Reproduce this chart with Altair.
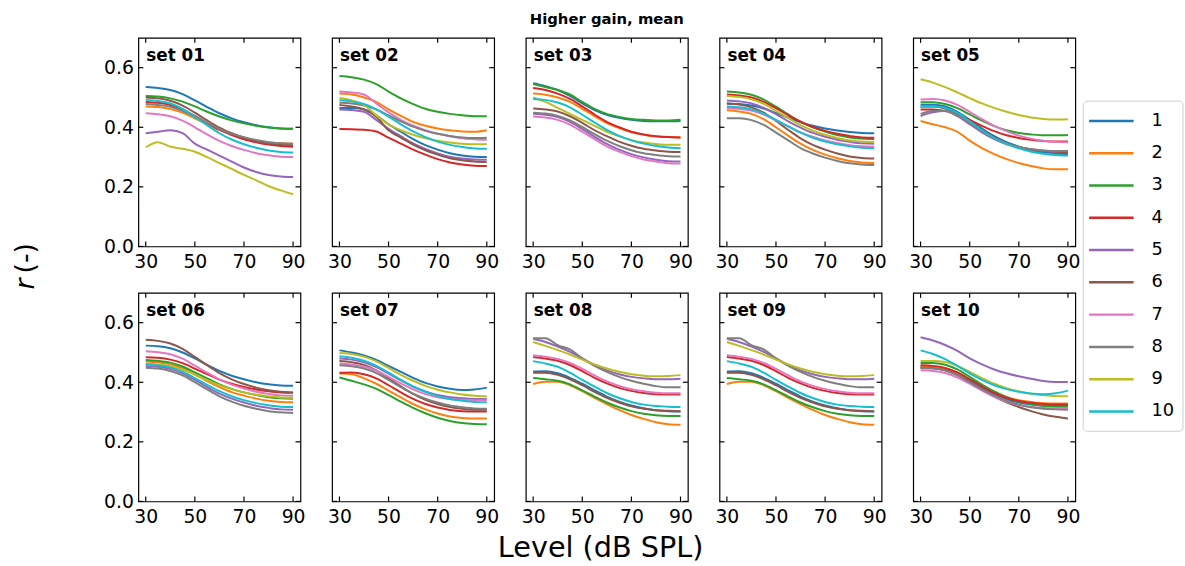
import altair as alt
import pandas as pd

levels = [30, 35, 40, 45, 50, 55, 60, 65, 70, 75, 80, 85, 90]
series_ids = [1, 2, 3, 4, 5, 6, 7, 8, 9, 10]
colors = ["#1f77b4", "#ff7f0e", "#2ca02c", "#d62728", "#9467bd",
          "#8c564b", "#e377c2", "#7f7f7f", "#bcbd22", "#17becf"]
set_names = ["set 01", "set 02", "set 03", "set 04", "set 05",
             "set 06", "set 07", "set 08", "set 09", "set 10"]
x_ticks = [30, 50, 70, 90]
y_ticks = [0.0, 0.2, 0.4, 0.6]
title_text = "Higher gain, mean"
x_title = "Level (dB SPL)"
y_title_parts = ["r", "(-)"]

set01 = [
    [0.535, 0.532, 0.525, 0.511, 0.490, 0.468, 0.447, 0.430, 0.417, 0.407, 0.400, 0.396, 0.395],
    [0.470, 0.468, 0.461, 0.449, 0.430, 0.410, 0.391, 0.376, 0.365, 0.356, 0.350, 0.346, 0.345],
    [0.505, 0.503, 0.497, 0.486, 0.470, 0.452, 0.436, 0.423, 0.413, 0.405, 0.399, 0.396, 0.395],
    [0.485, 0.482, 0.475, 0.460, 0.438, 0.414, 0.392, 0.374, 0.360, 0.350, 0.342, 0.337, 0.335],
    [0.380, 0.385, 0.390, 0.380, 0.345, 0.325, 0.305, 0.285, 0.265, 0.250, 0.240, 0.235, 0.233],
    [0.500, 0.497, 0.489, 0.473, 0.449, 0.423, 0.399, 0.380, 0.366, 0.354, 0.346, 0.342, 0.340],
    [0.447, 0.444, 0.437, 0.422, 0.400, 0.376, 0.354, 0.337, 0.324, 0.313, 0.306, 0.301, 0.300],
    [0.478, 0.475, 0.469, 0.455, 0.435, 0.414, 0.394, 0.378, 0.366, 0.357, 0.350, 0.346, 0.345],
    [0.333, 0.350, 0.335, 0.328, 0.318, 0.300, 0.280, 0.260, 0.240, 0.222, 0.203, 0.188, 0.175],
    [0.492, 0.488, 0.480, 0.462, 0.435, 0.407, 0.380, 0.359, 0.343, 0.331, 0.322, 0.317, 0.315],
]
set02 = [
    [0.465, 0.465, 0.460, 0.440, 0.410, 0.385, 0.360, 0.340, 0.325, 0.313, 0.305, 0.301, 0.300],
    [0.513, 0.510, 0.500, 0.485, 0.460, 0.438, 0.418, 0.405, 0.396, 0.390, 0.386, 0.385, 0.390],
    [0.572, 0.568, 0.560, 0.545, 0.520, 0.497, 0.478, 0.462, 0.452, 0.445, 0.440, 0.437, 0.437],
    [0.394, 0.393, 0.392, 0.386, 0.365, 0.345, 0.325, 0.308, 0.293, 0.282, 0.275, 0.271, 0.270],
    [0.460, 0.458, 0.452, 0.425, 0.395, 0.370, 0.346, 0.327, 0.312, 0.301, 0.295, 0.292, 0.291],
    [0.475, 0.470, 0.460, 0.435, 0.390, 0.365, 0.342, 0.323, 0.308, 0.296, 0.289, 0.285, 0.283],
    [0.520, 0.517, 0.510, 0.480, 0.450, 0.425, 0.405, 0.390, 0.378, 0.370, 0.363, 0.360, 0.358],
    [0.482, 0.480, 0.473, 0.460, 0.440, 0.420, 0.402, 0.388, 0.378, 0.371, 0.366, 0.364, 0.365],
    [0.498, 0.490, 0.475, 0.440, 0.410, 0.390, 0.375, 0.363, 0.355, 0.349, 0.345, 0.343, 0.344],
    [0.491, 0.487, 0.478, 0.460, 0.436, 0.410, 0.386, 0.367, 0.352, 0.341, 0.334, 0.329, 0.328],
]
set03 = [
    [0.548, 0.538, 0.525, 0.505, 0.480, 0.458, 0.442, 0.432, 0.425, 0.421, 0.420, 0.420, 0.421],
    [0.513, 0.509, 0.500, 0.485, 0.462, 0.437, 0.414, 0.397, 0.383, 0.375, 0.369, 0.367, 0.366],
    [0.545, 0.535, 0.525, 0.510, 0.485, 0.462, 0.445, 0.435, 0.428, 0.425, 0.423, 0.423, 0.425],
    [0.532, 0.525, 0.513, 0.495, 0.470, 0.443, 0.418, 0.400, 0.385, 0.376, 0.370, 0.367, 0.366],
    [0.445, 0.442, 0.434, 0.418, 0.394, 0.368, 0.344, 0.325, 0.310, 0.299, 0.291, 0.286, 0.285],
    [0.463, 0.460, 0.453, 0.437, 0.415, 0.390, 0.370, 0.352, 0.338, 0.328, 0.322, 0.318, 0.317],
    [0.436, 0.433, 0.425, 0.409, 0.385, 0.360, 0.336, 0.318, 0.303, 0.292, 0.285, 0.279, 0.278],
    [0.449, 0.446, 0.438, 0.423, 0.401, 0.377, 0.355, 0.337, 0.323, 0.313, 0.307, 0.303, 0.302],
    [0.500, 0.485, 0.465, 0.445, 0.425, 0.405, 0.385, 0.370, 0.357, 0.349, 0.344, 0.341, 0.341],
    [0.495, 0.492, 0.483, 0.467, 0.442, 0.416, 0.391, 0.371, 0.356, 0.345, 0.337, 0.332, 0.330],
]
set04 = [
    [0.480, 0.478, 0.473, 0.463, 0.448, 0.432, 0.417, 0.405, 0.396, 0.389, 0.384, 0.381, 0.380],
    [0.457, 0.453, 0.445, 0.427, 0.400, 0.372, 0.345, 0.324, 0.308, 0.296, 0.287, 0.282, 0.280],
    [0.520, 0.517, 0.509, 0.493, 0.469, 0.443, 0.419, 0.400, 0.386, 0.374, 0.366, 0.362, 0.360],
    [0.510, 0.507, 0.500, 0.485, 0.464, 0.440, 0.419, 0.401, 0.388, 0.378, 0.371, 0.366, 0.365],
    [0.490, 0.487, 0.480, 0.465, 0.444, 0.420, 0.399, 0.381, 0.368, 0.358, 0.351, 0.346, 0.345],
    [0.480, 0.476, 0.467, 0.449, 0.421, 0.391, 0.363, 0.341, 0.325, 0.312, 0.302, 0.297, 0.295],
    [0.465, 0.462, 0.456, 0.443, 0.423, 0.403, 0.383, 0.368, 0.356, 0.347, 0.340, 0.336, 0.335],
    [0.430, 0.430, 0.424, 0.408, 0.382, 0.356, 0.330, 0.312, 0.298, 0.287, 0.279, 0.275, 0.273],
    [0.505, 0.502, 0.494, 0.479, 0.455, 0.431, 0.407, 0.389, 0.375, 0.364, 0.356, 0.352, 0.350],
    [0.470, 0.467, 0.460, 0.446, 0.425, 0.403, 0.382, 0.365, 0.352, 0.343, 0.336, 0.331, 0.330],
]
set05 = [
    [0.476, 0.476, 0.470, 0.452, 0.425, 0.396, 0.370, 0.350, 0.335, 0.324, 0.316, 0.312, 0.310],
    [0.421, 0.410, 0.400, 0.385, 0.355, 0.330, 0.310, 0.293, 0.280, 0.270, 0.262, 0.259, 0.259],
    [0.484, 0.484, 0.478, 0.464, 0.443, 0.422, 0.404, 0.390, 0.381, 0.376, 0.373, 0.373, 0.374],
    [0.460, 0.460, 0.455, 0.443, 0.425, 0.405, 0.387, 0.373, 0.364, 0.358, 0.354, 0.352, 0.352],
    [0.438, 0.450, 0.455, 0.437, 0.410, 0.383, 0.360, 0.343, 0.332, 0.325, 0.320, 0.318, 0.318],
    [0.470, 0.470, 0.463, 0.446, 0.419, 0.391, 0.366, 0.347, 0.334, 0.326, 0.321, 0.318, 0.317],
    [0.493, 0.495, 0.490, 0.475, 0.452, 0.427, 0.405, 0.387, 0.372, 0.362, 0.355, 0.351, 0.350],
    [0.445, 0.455, 0.455, 0.440, 0.415, 0.388, 0.364, 0.346, 0.334, 0.326, 0.322, 0.320, 0.320],
    [0.561, 0.550, 0.535, 0.517, 0.498, 0.480, 0.465, 0.452, 0.441, 0.433, 0.428, 0.426, 0.427],
    [0.469, 0.470, 0.465, 0.448, 0.420, 0.390, 0.364, 0.344, 0.329, 0.318, 0.311, 0.307, 0.305],
]
set06 = [
    [0.523, 0.521, 0.514, 0.500, 0.480, 0.458, 0.438, 0.422, 0.410, 0.400, 0.393, 0.389, 0.388],
    [0.470, 0.467, 0.460, 0.447, 0.426, 0.404, 0.384, 0.367, 0.355, 0.345, 0.338, 0.334, 0.333],
    [0.475, 0.472, 0.466, 0.453, 0.433, 0.413, 0.393, 0.378, 0.366, 0.357, 0.350, 0.346, 0.345],
    [0.484, 0.482, 0.476, 0.464, 0.446, 0.427, 0.409, 0.395, 0.384, 0.376, 0.370, 0.366, 0.365],
    [0.455, 0.452, 0.445, 0.430, 0.408, 0.384, 0.362, 0.345, 0.332, 0.321, 0.314, 0.309, 0.308],
    [0.543, 0.539, 0.530, 0.512, 0.485, 0.457, 0.431, 0.410, 0.394, 0.382, 0.373, 0.368, 0.366],
    [0.504, 0.501, 0.494, 0.479, 0.456, 0.432, 0.410, 0.392, 0.379, 0.368, 0.361, 0.356, 0.355],
    [0.449, 0.446, 0.438, 0.423, 0.400, 0.376, 0.353, 0.335, 0.321, 0.311, 0.303, 0.299, 0.297],
    [0.462, 0.460, 0.454, 0.443, 0.426, 0.407, 0.390, 0.377, 0.366, 0.358, 0.353, 0.349, 0.348],
    [0.460, 0.457, 0.450, 0.436, 0.414, 0.391, 0.370, 0.353, 0.340, 0.330, 0.323, 0.318, 0.317],
]
set07 = [
    [0.507, 0.500, 0.490, 0.475, 0.455, 0.435, 0.415, 0.398, 0.386, 0.378, 0.374, 0.376, 0.382],
    [0.429, 0.427, 0.413, 0.395, 0.372, 0.349, 0.327, 0.309, 0.295, 0.285, 0.280, 0.278, 0.278],
    [0.416, 0.405, 0.393, 0.378, 0.357, 0.335, 0.314, 0.296, 0.281, 0.270, 0.263, 0.260, 0.259],
    [0.432, 0.433, 0.427, 0.413, 0.390, 0.366, 0.344, 0.327, 0.315, 0.307, 0.303, 0.302, 0.302],
    [0.480, 0.476, 0.467, 0.451, 0.429, 0.406, 0.385, 0.369, 0.357, 0.350, 0.346, 0.344, 0.344],
    [0.471, 0.467, 0.458, 0.440, 0.413, 0.386, 0.361, 0.341, 0.327, 0.317, 0.311, 0.308, 0.308],
    [0.463, 0.460, 0.453, 0.439, 0.418, 0.396, 0.376, 0.360, 0.350, 0.344, 0.341, 0.340, 0.340],
    [0.457, 0.454, 0.446, 0.431, 0.408, 0.384, 0.362, 0.345, 0.332, 0.322, 0.316, 0.312, 0.311],
    [0.498, 0.495, 0.486, 0.470, 0.448, 0.425, 0.405, 0.388, 0.375, 0.366, 0.359, 0.355, 0.353],
    [0.487, 0.482, 0.472, 0.455, 0.432, 0.408, 0.386, 0.368, 0.354, 0.344, 0.338, 0.334, 0.333],
]
set08 = [
    [0.436, 0.437, 0.430, 0.415, 0.395, 0.373, 0.352, 0.335, 0.322, 0.313, 0.306, 0.303, 0.302],
    [0.394, 0.402, 0.402, 0.390, 0.370, 0.348, 0.327, 0.307, 0.290, 0.277, 0.266, 0.259, 0.257],
    [0.414, 0.410, 0.405, 0.393, 0.373, 0.352, 0.332, 0.316, 0.303, 0.294, 0.289, 0.287, 0.287],
    [0.485, 0.480, 0.472, 0.458, 0.437, 0.415, 0.396, 0.381, 0.371, 0.364, 0.360, 0.359, 0.359],
    [0.546, 0.535, 0.520, 0.502, 0.480, 0.458, 0.440, 0.427, 0.418, 0.413, 0.410, 0.410, 0.412],
    [0.432, 0.432, 0.425, 0.410, 0.390, 0.368, 0.348, 0.332, 0.319, 0.311, 0.306, 0.304, 0.303],
    [0.491, 0.486, 0.478, 0.465, 0.445, 0.423, 0.403, 0.388, 0.377, 0.370, 0.365, 0.363, 0.363],
    [0.548, 0.548, 0.525, 0.510, 0.480, 0.455, 0.435, 0.418, 0.405, 0.395, 0.387, 0.383, 0.383],
    [0.535, 0.522, 0.508, 0.493, 0.476, 0.460, 0.446, 0.435, 0.427, 0.422, 0.420, 0.421, 0.424],
    [0.471, 0.463, 0.452, 0.432, 0.408, 0.385, 0.364, 0.347, 0.334, 0.325, 0.320, 0.318, 0.317],
]
set09 = [
    [0.436, 0.437, 0.430, 0.415, 0.395, 0.373, 0.352, 0.335, 0.322, 0.313, 0.306, 0.303, 0.302],
    [0.394, 0.402, 0.402, 0.390, 0.370, 0.348, 0.327, 0.307, 0.290, 0.277, 0.266, 0.259, 0.257],
    [0.414, 0.410, 0.405, 0.393, 0.373, 0.352, 0.332, 0.316, 0.303, 0.294, 0.289, 0.287, 0.287],
    [0.485, 0.480, 0.472, 0.458, 0.437, 0.415, 0.396, 0.381, 0.371, 0.364, 0.360, 0.359, 0.359],
    [0.546, 0.535, 0.520, 0.502, 0.480, 0.458, 0.440, 0.427, 0.418, 0.413, 0.410, 0.410, 0.412],
    [0.432, 0.432, 0.425, 0.410, 0.390, 0.368, 0.348, 0.332, 0.319, 0.311, 0.306, 0.304, 0.303],
    [0.491, 0.486, 0.478, 0.465, 0.445, 0.423, 0.403, 0.388, 0.377, 0.370, 0.365, 0.363, 0.363],
    [0.548, 0.548, 0.525, 0.510, 0.480, 0.455, 0.435, 0.418, 0.405, 0.395, 0.387, 0.383, 0.383],
    [0.535, 0.522, 0.508, 0.493, 0.476, 0.460, 0.446, 0.435, 0.427, 0.422, 0.420, 0.421, 0.424],
    [0.471, 0.463, 0.452, 0.432, 0.408, 0.385, 0.364, 0.347, 0.334, 0.325, 0.320, 0.318, 0.317],
]
set10 = [
    [0.450, 0.448, 0.441, 0.426, 0.404, 0.381, 0.360, 0.344, 0.332, 0.325, 0.321, 0.320, 0.320],
    [0.455, 0.453, 0.446, 0.432, 0.410, 0.388, 0.367, 0.351, 0.340, 0.334, 0.330, 0.329, 0.329],
    [0.465, 0.465, 0.459, 0.443, 0.418, 0.392, 0.369, 0.350, 0.336, 0.327, 0.321, 0.318, 0.317],
    [0.457, 0.455, 0.448, 0.433, 0.410, 0.386, 0.364, 0.348, 0.337, 0.331, 0.327, 0.325, 0.325],
    [0.551, 0.540, 0.525, 0.505, 0.480, 0.460, 0.443, 0.430, 0.420, 0.412, 0.404, 0.401, 0.401],
    [0.449, 0.447, 0.440, 0.424, 0.400, 0.375, 0.352, 0.333, 0.317, 0.303, 0.292, 0.284, 0.278],
    [0.440, 0.438, 0.431, 0.416, 0.395, 0.372, 0.351, 0.335, 0.324, 0.317, 0.314, 0.313, 0.313],
    [0.448, 0.447, 0.440, 0.424, 0.400, 0.376, 0.355, 0.338, 0.325, 0.316, 0.311, 0.309, 0.308],
    [0.471, 0.471, 0.468, 0.455, 0.435, 0.414, 0.395, 0.380, 0.369, 0.361, 0.356, 0.354, 0.353],
    [0.507, 0.495, 0.478, 0.455, 0.430, 0.408, 0.390, 0.377, 0.368, 0.362, 0.360, 0.363, 0.372],
]
all_sets = [set01, set02, set03, set04, set05, set06, set07, set08, set09, set10]

records = []
for name, curves in zip(set_names, all_sets):
    for sid, vals in zip(series_ids, curves):
        for lv, v in zip(levels, vals):
            records.append({"set": name, "series": sid, "level": lv, "r": v})
df = pd.DataFrame(records)

FONT = "DejaVu Sans"
W, H = 164, 211
TICK = 5
color_scale = alt.Scale(domain=series_ids, range=colors)


def panel(idx):
    name = set_names[idx]
    first_col = idx % 5 == 0
    xenc = alt.X(
        "level:Q",
        scale=alt.Scale(domain=[27, 93], nice=False, zero=False),
        axis=alt.Axis(values=x_ticks, title=None, ticks=False, tickSize=0, domain=False,
                      grid=False, labelFontSize=19, labelFont=FONT, labelColor="black",
                      labelPadding=6, labelFlush=False),
    )
    yscale = alt.Scale(domain=[0, 0.7], nice=False, zero=False)
    if first_col:
        yenc = alt.Y("r:Q", scale=yscale,
                     axis=alt.Axis(values=y_ticks, format=".1f", title=None, ticks=False,
                                   tickSize=0, domain=False, grid=False, labelFontSize=19,
                                   labelFont=FONT, labelColor="black", labelPadding=5))
    else:
        yenc = alt.Y("r:Q", scale=yscale, axis=None)

    d = df[df["set"] == name]
    lines = alt.Chart(d).mark_line(strokeWidth=2, interpolate="monotone").encode(
        x=xenc, y=yenc,
        color=alt.Color("series:N", scale=color_scale, legend=None),
    )
    xt = pd.DataFrame({"level": x_ticks})
    yt = pd.DataFrame({"r": y_ticks})
    tstyle = dict(color="black", strokeWidth=1.2)
    top = alt.Chart(xt).mark_rule(**tstyle).encode(x=xenc, y=alt.value(0), y2=alt.value(TICK))
    bot = alt.Chart(xt).mark_rule(**tstyle).encode(x=xenc, y=alt.value(H), y2=alt.value(H - TICK))
    lft = alt.Chart(yt).mark_rule(**tstyle).encode(y=yenc, x=alt.value(0), x2=alt.value(TICK))
    rgt = alt.Chart(yt).mark_rule(**tstyle).encode(y=yenc, x=alt.value(W - TICK), x2=alt.value(W))
    lab = alt.Chart(pd.DataFrame({"name": [name]})).mark_text(
        align="left", baseline="top", font=FONT, fontSize=17, fontWeight="bold", color="black"
    ).encode(x=alt.value(8), y=alt.value(10), text="name:N")
    return alt.layer(lines, top, bot, lft, rgt, lab).properties(width=W, height=H)


row1 = alt.hconcat(*[panel(i) for i in range(5)], spacing=20)
row2 = alt.hconcat(*[panel(i) for i in range(5, 10)], spacing=20)
grid = alt.vconcat(
    row1, row2, spacing=19,
    title=alt.TitleParams(x_title, orient="bottom", anchor="middle", font=FONT, fontSize=29,
                          fontWeight="normal", color="black", offset=8, dx=9),
)

# y-axis title (italic r + (-)), rotated
ylab_r = alt.Chart(pd.DataFrame({"t": [y_title_parts[0]]})).mark_text(
    angle=270, font=FONT, fontSize=27, fontStyle="italic", color="black",
    align="center", baseline="middle"
).encode(x=alt.value(20), y=alt.value(249), text="t:N")
ylab_u = alt.Chart(pd.DataFrame({"t": [y_title_parts[1]]})).mark_text(
    angle=270, font=FONT, fontSize=27, color="black", align="center", baseline="middle"
).encode(x=alt.value(20), y=alt.value(223), text="t:N")
ylab = alt.layer(ylab_r, ylab_u).properties(
    width=97, height=467, view=alt.ViewBackground(stroke="transparent"))

# legend drawn from the series list
leg_df = pd.DataFrame({"series": series_ids})
ly = alt.Y("series:N", scale=alt.Scale(type="point", domain=series_ids, range=[84, 378], padding=0),
           axis=None)
box = alt.Chart(pd.DataFrame({"b": [0]})).mark_rect(
    fill="white", stroke="#cccccc", strokeWidth=1, cornerRadius=4
).encode(x=alt.value(1), x2=alt.value(102), y=alt.value(64), y2=alt.value(398))
leg_lines = alt.Chart(leg_df).mark_rule(strokeWidth=2.5).encode(
    y=ly, x=alt.value(7), x2=alt.value(52),
    color=alt.Color("series:N", scale=color_scale, legend=None))
leg_text = alt.Chart(leg_df).mark_text(
    align="left", baseline="middle", font=FONT, fontSize=18, color="black"
).encode(y=ly, x=alt.value(70), text="series:N")
legend = alt.layer(box, leg_lines, leg_text).properties(
    width=103, height=467, view=alt.ViewBackground(stroke="transparent"))

chart = alt.hconcat(
    ylab, grid, legend, spacing=0,
    title=alt.TitleParams(title_text, anchor="middle", font=FONT, fontSize=15,
                          fontWeight="bold", color="black", offset=10, dx=12),
).properties(
    padding={"left": 5, "top": 8, "right": 0, "bottom": 0},
    background="white",
).configure_view(stroke="black", strokeWidth=1.2)

chart.save("out.html", embed_options={"renderer": "svg", "actions": False})
